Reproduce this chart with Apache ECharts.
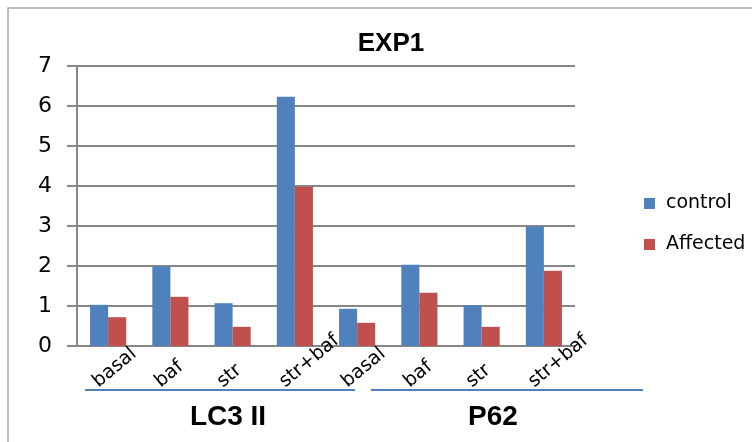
<!DOCTYPE html>
<html><head><meta charset="utf-8">
<script src="https://cdn.jsdelivr.net/npm/echarts@6/dist/echarts.min.js"></script>
<style>html,body{margin:0;padding:0;background:#fff}#c{width:752px;height:442px}</style>
</head><body><div id="c"></div>
<script>
const categories = ['basal', 'baf', 'str', 'str+baf', 'basal', 'baf', 'str', 'str+baf'];
const controlValues = [1.03, 1.99, 1.07, 6.23, 0.93, 2.03, 1.02, 2.99];
const affectedValues = [0.72, 1.23, 0.48, 3.98, 0.58, 1.33, 0.48, 1.88];
const seriesNames = ['control', 'Affected'];
const groups = ['LC3 II', 'P62'];
const titleText = 'EXP1';
const yMin = 0, yMax = 7, yStep = 1;

const chart = echarts.init(document.getElementById('c'), null, {renderer: 'canvas'});
const gray = '#878787';
const blue = '#4f81bd', red = '#c0504d';
chart.setOption({
  animation: false,
  backgroundColor: '#fff',
  title: {
    text: titleText, left: 386, top: 26, textAlign: 'center',
    textStyle: {fontFamily: 'Liberation Sans', fontWeight: 'bold', fontSize: 26, color: '#000'}
  },
  legend: {
    orient: 'vertical', left: 644, top: 194, padding: 0, itemWidth: 11, itemHeight: 11, itemGap: 22,
    icon: 'rect',
    textStyle: {fontFamily: 'DejaVu Sans', fontSize: 19, color: '#000', padding: [0, 0, 0, 6]},
    data: seriesNames
  },
  grid: {left: 77, top: 66, width: 498, height: 280},
  xAxis: {
    type: 'category', data: categories,
    axisLine: {lineStyle: {color: gray, width: 2}},
    axisTick: {show: false},
    axisLabel: {
      interval: 0, rotate: 40, align: 'left', verticalAlign: 'bottom',
      margin: 58, padding: [0, 0, 14, 3],
      fontFamily: 'DejaVu Sans', fontSize: 19, color: '#000'
    }
  },
  yAxis: {
    type: 'value', min: yMin, max: yMax, interval: yStep,
    axisLine: {show: true, lineStyle: {color: gray, width: 2}},
    axisTick: {show: true, length: 10, lineStyle: {color: gray, width: 2}},
    splitLine: {lineStyle: {color: gray, width: 2}},
    axisLabel: {margin: 25, fontFamily: 'DejaVu Sans', fontSize: 22, color: '#000'}
  },
  series: [
    {name: seriesNames[0], type: 'bar', data: controlValues, itemStyle: {color: blue},
     barGap: '0%', barCategoryGap: '42%'},
    {name: seriesNames[1], type: 'bar', data: affectedValues, itemStyle: {color: red}}
  ],
  graphic: [
    {type: 'rect', shape: {x: 8, y: 8, width: 800, height: 500}, style: {fill: 'none', stroke: '#a6a6a6', lineWidth: 1.5}, silent: true},
    {type: 'line', shape: {x1: 85, y1: 390, x2: 355, y2: 390}, style: {stroke: blue, lineWidth: 2}},
    {type: 'line', shape: {x1: 371, y1: 390, x2: 643, y2: 390}, style: {stroke: blue, lineWidth: 2}},
    {type: 'text', x: 228, y: 417, style: {text: groups[0], textAlign: 'center', textVerticalAlign: 'middle', font: 'bold 28px "Liberation Sans"', fill: '#000'}},
    {type: 'text', x: 493, y: 417, style: {text: groups[1], textAlign: 'center', textVerticalAlign: 'middle', font: 'bold 28px "Liberation Sans"', fill: '#000'}}
  ]
});
</script></body></html>
